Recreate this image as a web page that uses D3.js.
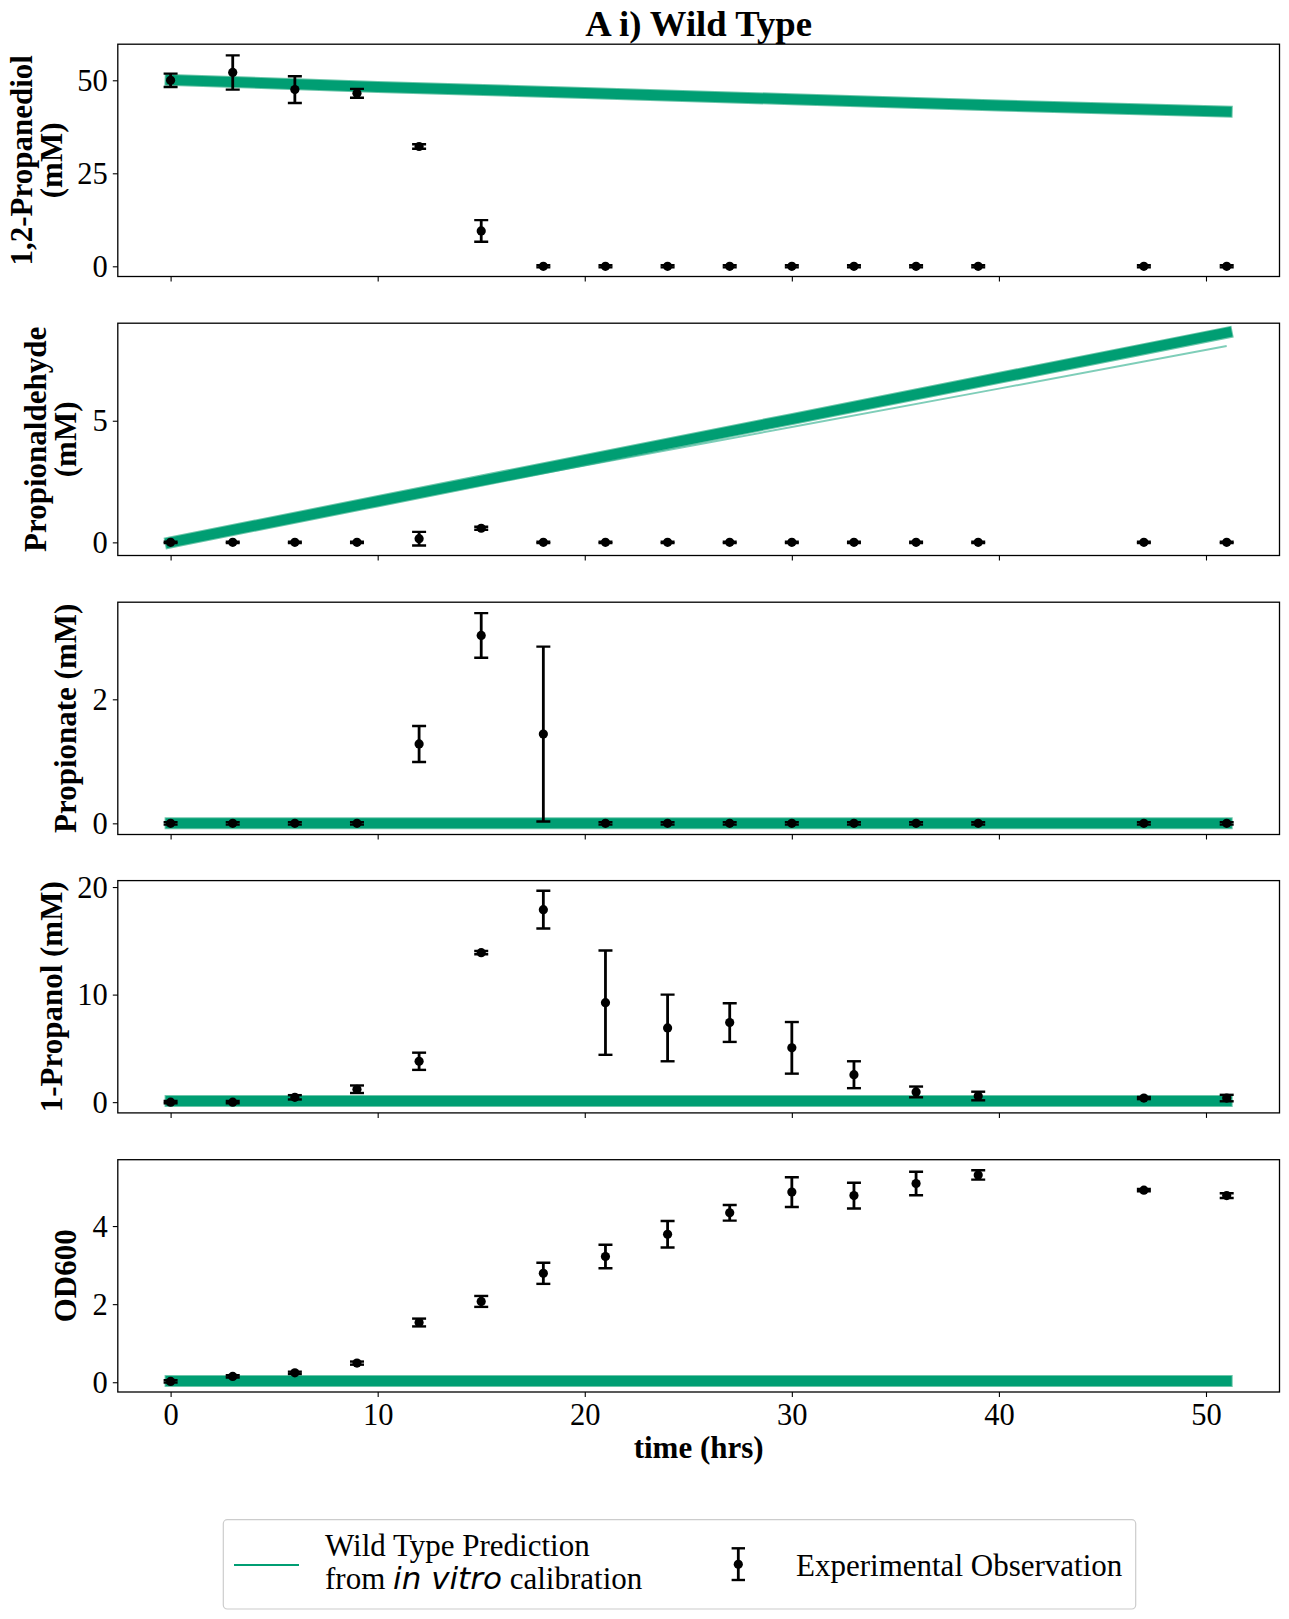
<!DOCTYPE html>
<html>
<head>
<meta charset="utf-8">
<script src="https://cdn.jsdelivr.net/npm/d3@7"></script>
<style>
  html, body { margin: 0; padding: 0; background: #fff; }
  svg { display: block; }
  text { font-family: "Liberation Serif", "Times New Roman", serif; fill: #000; }
</style>
</head>
<body>
<svg id="chart" width="1289" height="1619"></svg>
<script>
// ---- data -----------------------------------------------------------------
const times = [0, 3, 6, 9, 12, 15, 18, 21, 24, 27, 30, 33, 36, 39, 47, 51];

const propanediolMean = [50.0, 52.1, 47.5, 46.5, 32.2, 9.5, 0, 0, 0, 0, 0, 0, 0, 0, 0, 0];
const propanediolErr  = [1.8, 4.6, 3.6, 1.2, 0.6, 2.9, 0.3, 0.3, 0.3, 0.3, 0.3, 0.3, 0.3, 0.3, 0.3, 0.3];

const aldehydeMean = [0, 0, 0, 0, 0.15, 0.58, 0, 0, 0, 0, 0, 0, 0, 0, 0, 0];
const aldehydeErr  = [0.03, 0.03, 0.03, 0.03, 0.28, 0.06, 0.03, 0.03, 0.03, 0.03, 0.03, 0.03, 0.03, 0.03, 0.03, 0.03];

const propionateMean = [0, 0, 0, 0, 1.28, 3.03, 1.44, 0, 0, 0, 0, 0, 0, 0, 0, 0];
const propionateErr  = [0.02, 0.02, 0.02, 0.02, 0.29, 0.36, 1.41, 0.02, 0.02, 0.02, 0.02, 0.02, 0.02, 0.02, 0.02, 0.02];

const propanolMean = [0, 0, 0.45, 1.2, 3.8, 13.9, 17.9, 9.25, 6.9, 7.4, 5.05, 2.55, 0.95, 0.57, 0.38, 0.38];
const propanolErr  = [0.1, 0.1, 0.2, 0.35, 0.8, 0.15, 1.75, 4.85, 3.1, 1.8, 2.4, 1.25, 0.5, 0.4, 0.1, 0.3];

const odMean = [0.02, 0.15, 0.24, 0.49, 1.53, 2.07, 2.79, 3.22, 3.79, 4.34, 4.87, 4.78, 5.09, 5.31, 4.92, 4.78];
const odErr  = [0.03, 0.03, 0.03, 0.04, 0.1, 0.14, 0.27, 0.3, 0.34, 0.2, 0.38, 0.33, 0.3, 0.12, 0.03, 0.06];

// model prediction (in vitro calibration), read at a few times
const predTimes       = [0, 10, 20, 30, 40, 51];
const predPropanediol = [50.1, 48.2, 46.6, 44.9, 43.2, 41.6];
const predAldehyde    = [0.0, 1.69, 3.38, 5.07, 6.76, 8.62];
const predAldehydeAlt = [0.0, 1.58, 3.16, 4.74, 6.32, 8.07];
const predPropionate  = [0.0, 0.0, 0.0, 0.0, 0.0, 0.0];
const predPropanol    = [0.1, 0.1, 0.1, 0.1, 0.1, 0.1];
const predOD          = [0.03, 0.03, 0.03, 0.03, 0.03, 0.03];

const xTicks = [0, 10, 20, 30, 40, 50];

const panels = [
  { label: ["1,2-Propanediol", "(mM)"], mean: propanediolMean, err: propanediolErr,
    pred: [predPropanediol], alt: null, domain: [-2.74, 59.7], ticks: [0, 25, 50] },
  { label: ["Propionaldehyde", "(mM)"], mean: aldehydeMean, err: aldehydeErr,
    pred: [predAldehyde], alt: predAldehydeAlt, domain: [-0.54, 9.01], ticks: [0, 5] },
  { label: ["Propionate (mM)"], mean: propionateMean, err: propionateErr,
    pred: [predPropionate], alt: null, domain: [-0.18, 3.566], ticks: [0, 2] },
  { label: ["1-Propanol (mM)"], mean: propanolMean, err: propanolErr,
    pred: [predPropanol], alt: null, domain: [-1.0, 20.6], ticks: [0, 10, 20] },
  { label: ["OD600"], mean: odMean, err: odErr,
    pred: [predOD], alt: null, domain: [-0.25, 5.70], ticks: [0, 2, 4] },
];

// ---- layout ---------------------------------------------------------------
const GREEN = "#009e73";
const SERIF = "Liberation Serif";
const left = 117.8, right = 1279.5;
const tops = [44.2, 323.2, 602.2, 880.6, 1159.7];
const ph = 232.3;
const tickFont = 30.5, labelFont = 31;

const svg = d3.select("#chart");
const x = d3.scaleLinear().domain([-2.55, 53.55]).range([left, right]);

svg.append("text")
  .attr("x", (left + right) / 2).attr("y", 36)
  .attr("text-anchor", "middle")
  .style("font-size", "36.7px").style("font-weight", "bold")
  .text("A i) Wild Type");

panels.forEach((p, i) => {
  const top = tops[i], bottom = top + ph;
  const y = d3.scaleLinear().domain(p.domain).range([bottom, top]);
  const g = svg.append("g");
  const clipId = "clip" + i;
  g.append("clipPath").attr("id", clipId)
    .append("rect").attr("x", left).attr("y", top).attr("width", right - left).attr("height", ph);

  const line = d3.line().x((d, k) => x(predTimes[k])).y(d => y(d));
  const plot = g.append("g").attr("clip-path", `url(#${clipId})`);

  // prediction band: lighter halo + solid core
  p.pred.forEach(vals => {
    plot.append("path").attr("d", line(vals)).attr("fill", "none")
      .attr("stroke", "#6cc6aa").attr("stroke-width", 12).attr("stroke-linecap", "square");
    plot.append("path").attr("d", line(vals)).attr("fill", "none")
      .attr("stroke", GREEN).attr("stroke-width", 10).attr("stroke-linecap", "square");
  });
  if (p.alt) {
    plot.append("path").attr("d", line(p.alt)).attr("fill", "none")
      .attr("stroke", GREEN).attr("stroke-opacity", 0.5).attr("stroke-width", 2);
  }

  // error bars
  const eb = plot.append("g").attr("stroke", "#000");
  times.forEach((t, k) => {
    const cx = x(t), y0 = y(p.mean[k] - p.err[k]), y1 = y(p.mean[k] + p.err[k]);
    eb.append("line").attr("x1", cx).attr("x2", cx).attr("y1", y0).attr("y2", y1).attr("stroke-width", 2.8);
    [y0, y1].forEach(cy => eb.append("line").attr("x1", cx - 7).attr("x2", cx + 7)
      .attr("y1", cy).attr("y2", cy).attr("stroke-width", 2.4));
    eb.append("circle").attr("cx", cx).attr("cy", y(p.mean[k])).attr("r", 4.6)
      .attr("fill", "#000").attr("stroke", "none");
  });

  // frame
  g.append("rect").attr("x", left).attr("y", top).attr("width", right - left).attr("height", ph)
    .attr("fill", "none").attr("stroke", "#000").attr("stroke-width", 1.3);

  // y axis
  const ya = g.append("g").attr("transform", `translate(${left},0)`)
    .call(d3.axisLeft(y).tickValues(p.ticks).tickSize(5).tickPadding(5).tickFormat(d3.format("d")))
    .attr("font-family", SERIF).attr("font-size", tickFont);
  ya.select(".domain").remove();
  ya.selectAll("line").attr("stroke-width", 1.1);
  ya.selectAll("text").attr("font-family", SERIF).style("font-family", SERIF)
    .style("font-size", tickFont + "px").attr("dy", "0.33em");

  // x axis
  const xa = g.append("g").attr("transform", `translate(0,${bottom})`)
    .call(d3.axisBottom(x).tickValues(xTicks).tickSize(5).tickPadding(6).tickFormat(d3.format("d")))
    .attr("font-family", SERIF).attr("font-size", tickFont);
  xa.select(".domain").remove();
  xa.selectAll("line").attr("stroke-width", 1.1);
  if (i === panels.length - 1) {
    xa.selectAll("text").attr("font-family", SERIF).style("font-family", SERIF)
      .style("font-size", tickFont + "px").attr("dy", "0.71em");
  } else {
    xa.selectAll("text").remove();
  }

  // y label (one or two lines, right edge tracks tick label width)
  const widest = d3.max(p.ticks, d => String(d).length);
  const lastBase = widest > 1 ? 62 : 76;
  const cy = top + ph / 2;
  p.label.forEach((txt, j) => {
    const bx = lastBase - (p.label.length - 1 - j) * 30.5;
    g.append("text")
      .attr("transform", `translate(${bx},${cy}) rotate(-90)`)
      .attr("text-anchor", "middle")
      .style("font-size", labelFont + "px").style("font-weight", "bold")
      .text(txt);
  });
});

// x label
svg.append("text")
  .attr("x", (left + right) / 2).attr("y", 1458)
  .attr("text-anchor", "middle")
  .style("font-size", labelFont + "px").style("font-weight", "bold")
  .text("time (hrs)");

// ---- legend ---------------------------------------------------------------
const lg = svg.append("g");
lg.append("rect").attr("x", 223.3).attr("y", 1519.7).attr("width", 912.4).attr("height", 89.3)
  .attr("rx", 4).attr("fill", "#fff").attr("stroke", "#cccccc").attr("stroke-width", 1.2);
lg.append("line").attr("x1", 234).attr("x2", 299).attr("y1", 1565).attr("y2", 1565)
  .attr("stroke", GREEN).attr("stroke-width", 2.2);
lg.append("text").attr("x", 325).attr("y", 1555.7).style("font-size", labelFont + "px")
  .text("Wild Type Prediction");
const l2 = lg.append("text").attr("x", 325).attr("y", 1589).style("font-size", labelFont + "px");
l2.append("tspan").text("from ");
l2.append("tspan").style("font-family", '"DejaVu Sans", sans-serif').style("font-style", "italic")
  .style("font-size", "31px").text("in vitro");
l2.append("tspan").text(" calibration");

const hx = 738.3;
lg.append("line").attr("x1", hx).attr("x2", hx).attr("y1", 1548.3).attr("y2", 1580)
  .attr("stroke", "#000").attr("stroke-width", 2.8);
[1548.3, 1580].forEach(cy => lg.append("line").attr("x1", hx - 6.7).attr("x2", hx + 6.7)
  .attr("y1", cy).attr("y2", cy).attr("stroke", "#000").attr("stroke-width", 2.4));
lg.append("circle").attr("cx", hx).attr("cy", 1564.3).attr("r", 4.6).attr("fill", "#000");
lg.append("text").attr("x", 796).attr("y", 1576).style("font-size", labelFont + "px")
  .text("Experimental Observation");
</script>
</body>
</html>
